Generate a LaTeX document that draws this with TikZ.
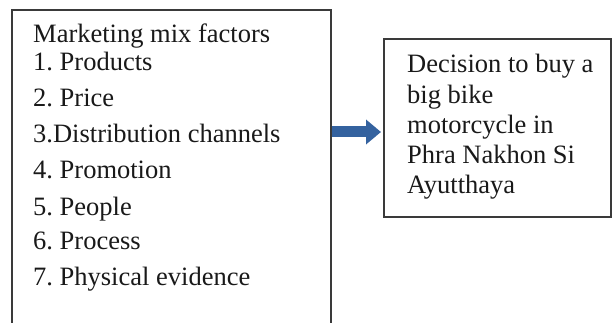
\documentclass[tikz,border=0pt]{standalone}
\usepackage{fontspec}
\setmainfont{Liberation Serif}
\usetikzlibrary{arrows.meta}
\definecolor{arrowblue}{HTML}{34629F}
\definecolor{boxline}{HTML}{3A3A3A}
\begin{document}
\frenchspacing
\begin{tikzpicture}[x=1pt,y=-1pt,
  frame/.style={draw=boxline, line width=1.4pt, inner sep=0pt, outer sep=0pt},
  item/.style={anchor=base west, inner sep=0pt, text=black!90,
    font=\fontsize{26.5}{30}\selectfont},
  flow/.style={draw=arrowblue, line width=11pt,
    -{Triangle[length=15pt,width=24pt]}}]
\useasboundingbox (0,0) rectangle (613,323);
\clip (0,0) rectangle (613,323);

% factor box, running past the lower edge
\node[frame, minimum width=319pt, minimum height=340pt, anchor=north west]
  (factors) at (12,10) {};
% decision box
\node[frame, minimum width=227pt, minimum height=178pt, anchor=north west]
  (decision) at (384,39) {};

% factor list
\node[item] (f0) at (33,43)  {Marketing mix factors};
\node[item] (f1) at (33,71)  {1. Products};
\node[item] (f2) at (33,107) {2. Price};
\node[item] (f3) at (33,143) {3.Distribution channels};
\node[item] (f4) at (33,179) {4. Promotion};
\node[item] (f5) at (33,215) {5. People};
\node[item] (f6) at (33,250) {6. Process};
\node[item] (f7) at (33,285) {7. Physical evidence};

% decision text
\node[item] (d1) at (407,73)  {Decision to buy a};
\node[item] (d2) at (407,104) {big bike};
\node[item] (d3) at (407,134) {motorcycle in};
\node[item] (d4) at (407,164) {Phra Nakhon Si};
\node[item] (d5) at (407,194) {Ayutthaya};

% link between the boxes
\coordinate (src) at (factors.east |- 0,132);
\coordinate (dst) at ([xshift=-3pt]decision.west |- 0,132);
\draw[flow, shorten <=0.7pt] (src) -- (dst);
\end{tikzpicture}
\end{document}
